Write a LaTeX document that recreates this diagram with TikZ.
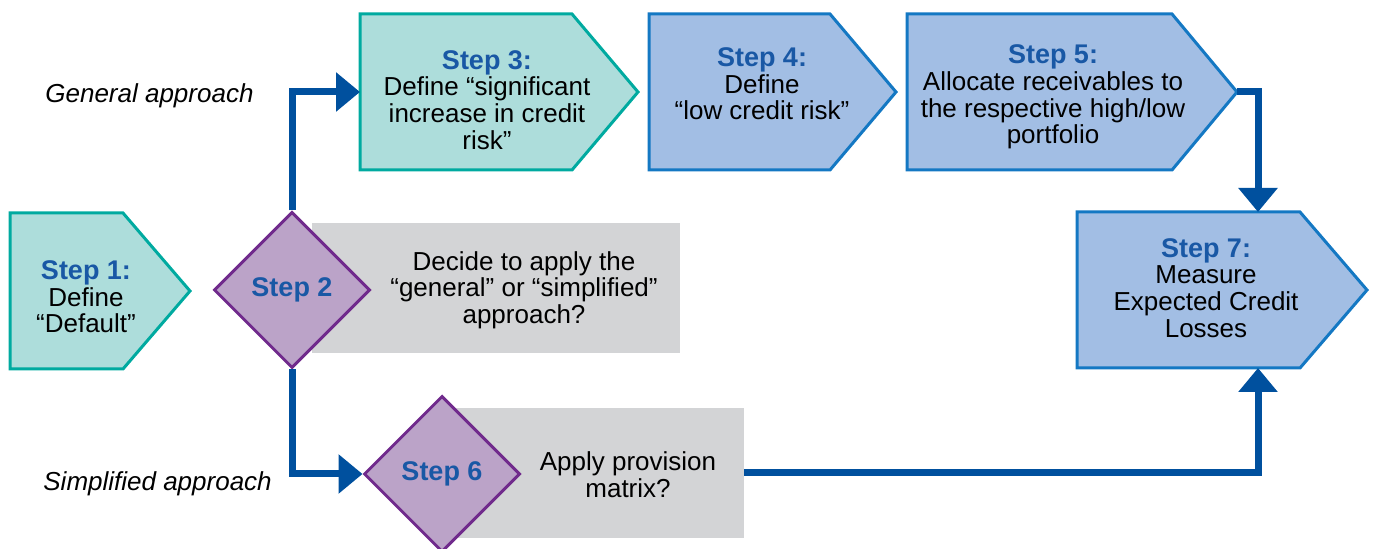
\documentclass[tikz,border=0pt]{standalone}
\usepackage{fontspec}
\setmainfont{Liberation Sans}
\usepackage{tikz}
\usetikzlibrary{arrows.meta}
\usetikzlibrary{shapes.geometric}
\usetikzlibrary{positioning}
\definecolor{tealline}{RGB}{0, 170, 160}
\definecolor{tealfill}{RGB}{173, 221, 219}
\definecolor{blueline}{RGB}{20, 120, 195}
\definecolor{bluefill}{RGB}{162, 190, 228}
\definecolor{plumline}{RGB}{112, 42, 140}
\definecolor{plumfill}{RGB}{187, 163, 200}
\definecolor{greybox}{RGB}{211, 212, 214}
\definecolor{flowblue}{RGB}{0, 80, 158}
\definecolor{titleblue}{RGB}{25, 88, 165}
\newcommand{\steptitle}[1]{{\fontsize{13.5}{13.3}\selectfont\bfseries\color{titleblue}#1}}

\begin{document}
\begin{tikzpicture}[x=0.5pt, y=-0.5pt,
    tealstep/.style={draw=tealline, fill=tealfill, line width=1.5pt, line join=miter},
    bluestep/.style={draw=blueline, fill=bluefill, line width=1.5pt, line join=miter},
    steptext/.style={align=center, inner sep=0pt, font=\fontsize{13}{13.3}\selectfont},
    decision/.style={diamond, aspect=1, draw=plumline, fill=plumfill, line width=1.5pt,
                     minimum width=78pt, minimum height=78pt, inner sep=0pt},
    question/.style={fill=greybox, inner sep=0pt, align=center, font=\fontsize{13}{13.3}\selectfont},
    approach/.style={inner sep=0pt, font=\fontsize{13}{13.3}\selectfont\itshape},
    flow/.style={draw=flowblue, line width=3.5pt, -{Triangle[length=12pt, width=19pt]}}]
    % Frame:
    \useasboundingbox (0, 0) rectangle (1375, 549);
    % Grey question panels, behind the diamonds
    \node[question, minimum width=184pt, minimum height=65pt] (q2) at (496, 288) {};
    \node[question, minimum width=145.5pt, minimum height=65pt] (q6) at (598.5, 473) {};
    % Step outlines
    \filldraw[tealstep] (  10, 213) -- ( 123, 213) -- ( 190, 291) -- ( 123, 369) -- (  10, 369) -- cycle;
    \filldraw[tealstep] ( 360,  14) -- ( 572,  14) -- ( 638,  92) -- ( 572, 170) -- ( 360, 170) -- cycle;
    \filldraw[bluestep] ( 649,  14) -- ( 830,  14) -- ( 896,  92) -- ( 830, 170) -- ( 649, 170) -- cycle;
    \filldraw[bluestep] ( 907,  14) -- (1172,  14) -- (1237,  92) -- (1172, 170) -- ( 907, 170) -- cycle;
    \filldraw[bluestep] (1077, 212) -- (1300, 212) -- (1367, 290) -- (1300, 368) -- (1077, 368) -- cycle;
    % Step texts
    \node[steptext] (s1) at (  86, 297) {\steptitle{Step 1:}\\Define\\``Default''};
    \node[steptext] (s3) at ( 487, 100) {\steptitle{Step 3:}\\Define ``significant\\increase in credit\\risk''};
    \node[steptext] (s4) at ( 762,  84) {\steptitle{Step 4:}\\Define\\``low credit risk''};
    \node[steptext] (s5) at (1053,  97) {\steptitle{Step 5:}\\Allocate receivables to\\the respective high/low\\portfolio};
    \node[steptext] (s7) at (1206, 288) {\steptitle{Step 7:}\\Measure\\Expected Credit\\Losses};
    % Decisions
    \node[decision] (s2) at (292, 290) {\steptitle{Step 2}};
    \node[decision] (s6) at (442, 474) {\steptitle{Step 6}};
    \node[steptext] (t2) at (524, 290) {Decide to apply the\\``general'' or ``simplified''\\approach?};
    \node[steptext] (t6) at (628, 475) {Apply provision\\matrix?};
    % Side labels
    \node[approach, anchor=west] (gen) at (45, 96) {General approach};
    \node[approach, anchor=west] (sim) at (43, 484) {Simplified approach};
    % Connector ends on the outlines
    \coordinate (s3in)  at ( 360,  92);
    \coordinate (s5out) at (1237,  92);
    \coordinate (s7top) at (1258, 212);
    \coordinate (s7bot) at (1258, 368);
    % Flow
    \draw[flow] (s2.north) |- (s3in);
    \draw[flow] (s2.south) |- (s6.west);
    \draw[flow] (s5out) -| (s7top);
    \draw[flow] (q6.east) -| (s7bot);
\end{tikzpicture}
\end{document}
